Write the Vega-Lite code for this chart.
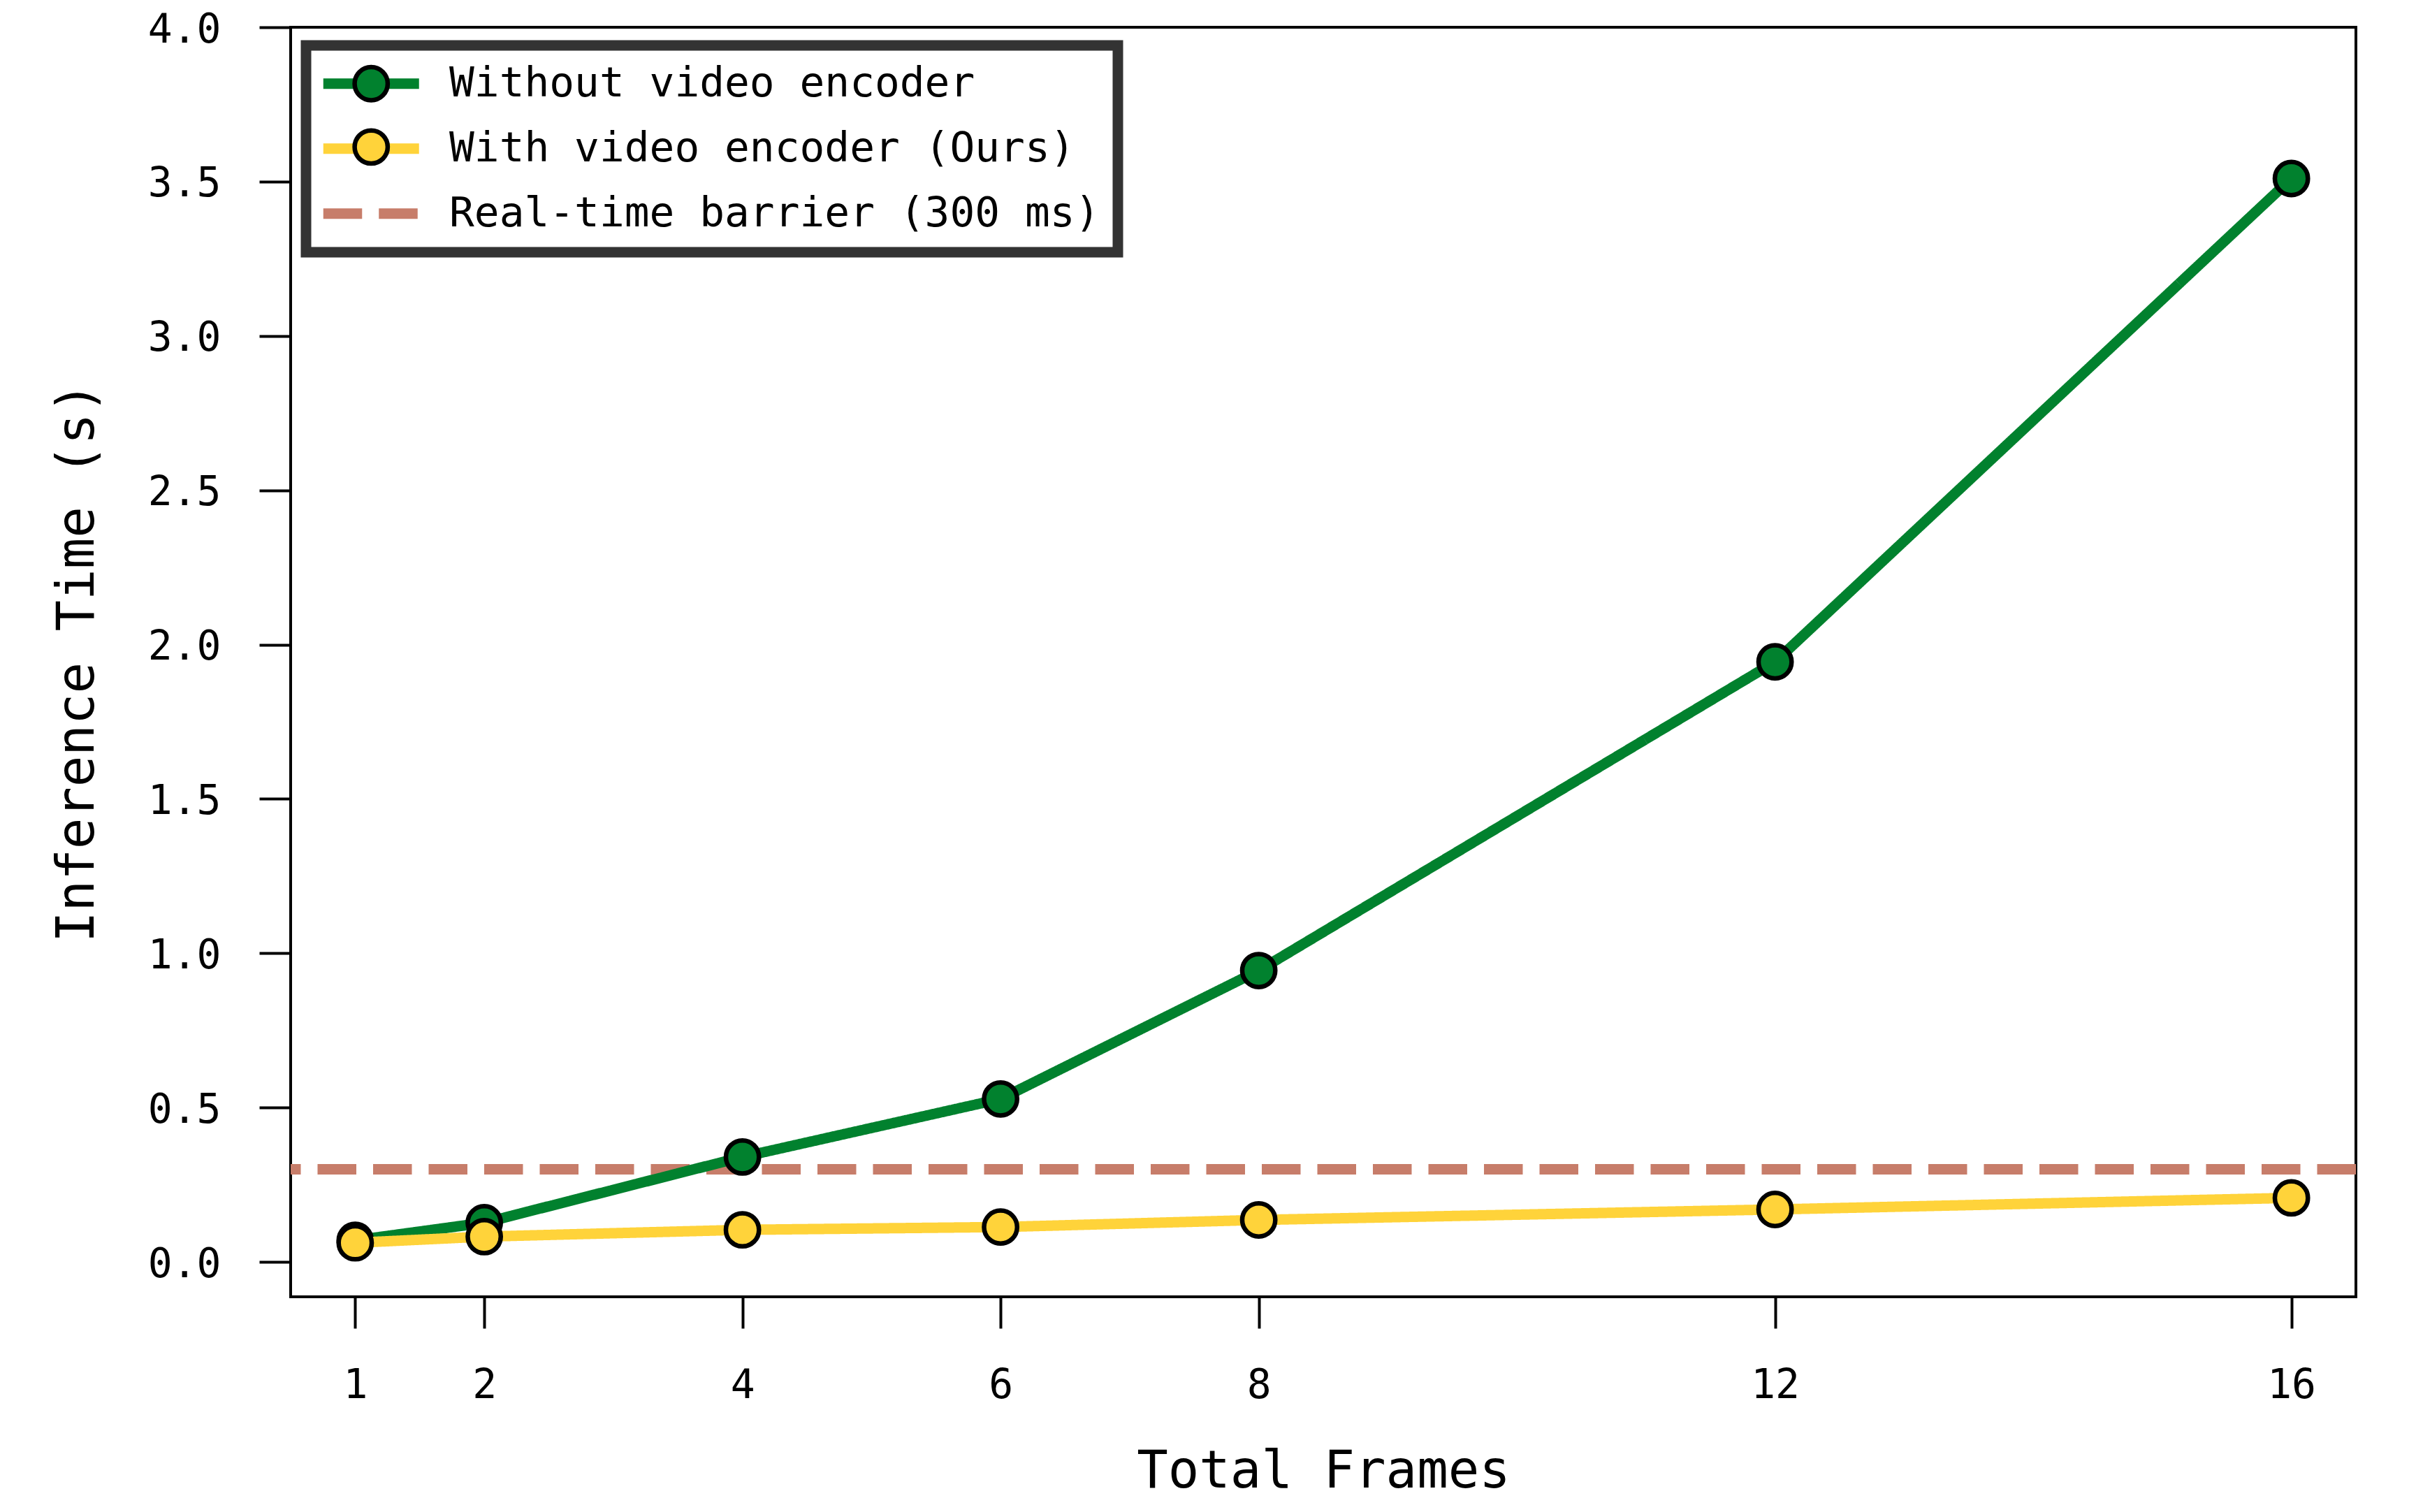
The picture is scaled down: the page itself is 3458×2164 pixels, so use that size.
{
  "$schema": "https://vega.github.io/schema/vega-lite/v6.json",
  "width": 2956,
  "height": 1817,
  "autosize": {"type": "none"},
  "padding": {"left": 416, "top": 39, "right": 86, "bottom": 308},
  "background": "white",
  "datasets": {
    "times": [
      {"frames": 1, "time": 0.07, "series": "Without video encoder"},
      {"frames": 2, "time": 0.127, "series": "Without video encoder"},
      {"frames": 4, "time": 0.34, "series": "Without video encoder"},
      {"frames": 6, "time": 0.528, "series": "Without video encoder"},
      {"frames": 8, "time": 0.944, "series": "Without video encoder"},
      {"frames": 12, "time": 1.944, "series": "Without video encoder"},
      {"frames": 16, "time": 3.51, "series": "Without video encoder"},
      {"frames": 1, "time": 0.062, "series": "With video encoder (Ours)"},
      {"frames": 2, "time": 0.082, "series": "With video encoder (Ours)"},
      {"frames": 4, "time": 0.104, "series": "With video encoder (Ours)"},
      {"frames": 6, "time": 0.113, "series": "With video encoder (Ours)"},
      {"frames": 8, "time": 0.136, "series": "With video encoder (Ours)"},
      {"frames": 12, "time": 0.17, "series": "With video encoder (Ours)"},
      {"frames": 16, "time": 0.2075, "series": "With video encoder (Ours)"}
    ],
    "barrier": [
      {"time": 0.3, "series": "Real-time barrier (300 ms)"}
    ]
  },
  "encoding": {
    "x": {
      "field": "frames", "type": "quantitative",
      "scale": {"domain": [0.5, 16.5], "nice": false, "zero": false},
      "axis": {
        "values": [1, 2, 4, 6, 8, 12, 16],
        "title": "Total Frames",
        "labelPadding": 53,
        "titleY": 272,
        "titleBaseline": "alphabetic"
      }
    },
    "y": {
      "field": "time", "type": "quantitative",
      "scale": {"domain": [-0.113, 4.0], "nice": false, "zero": false},
      "axis": {
        "values": [0, 0.5, 1, 1.5, 2, 2.5, 3, 3.5, 4],
        "format": ".1f",
        "title": "Inference Time (s)",
        "labelPadding": 55,
        "labelOffset": 4,
        "titleX": -283,
        "titleBaseline": "alphabetic",
        "titleAngle": -90
      }
    }
  },
  "layer": [
    {
      "data": {"name": "barrier"},
      "mark": {"type": "rule", "strokeWidth": 15},
      "encoding": {
        "x": null,
        "color": {
          "field": "series", "type": "nominal",
          "scale": {"domain": ["Without video encoder", "With video encoder (Ours)", "Real-time barrier (300 ms)"], "range": ["#01812e", "#ffd33a", "#c77d6a"]},
          "legend": {
            "orient": "none", "legendX": 22, "legendY": 26, "title": null,
            "symbolType": "M-3.425,0L3.425,0", "symbolSize": 1600, "symbolStrokeWidth": 15, "symbolOffset": 38.5,
            "labelFont": "DejaVu Sans Mono", "labelFontSize": 59.5, "labelColor": "black", "labelOffset": 82, "labelLimit": 0,
            "padding": 25, "rowPadding": 32, "fillColor": "white", "strokeColor": "#333333", "zindex": 1,
            "encode": {"legend": {"update": {"strokeWidth": {"value": 15}}}}
          }
        },
        "strokeDash": {
          "field": "series", "type": "nominal",
          "scale": {"domain": ["Without video encoder", "With video encoder (Ours)", "Real-time barrier (300 ms)"], "range": [[1, 0], [1, 0], [55.5, 24]]},
          "legend": {
            "orient": "none", "legendX": 22, "legendY": 26, "title": null,
            "symbolType": "M-3.425,0L3.425,0", "symbolSize": 1600, "symbolStrokeWidth": 15, "symbolOffset": 38.5,
            "labelFont": "DejaVu Sans Mono", "labelFontSize": 59.5, "labelColor": "black", "labelOffset": 82, "labelLimit": 0,
            "padding": 25, "rowPadding": 32, "fillColor": "white", "strokeColor": "#333333", "zindex": 1,
            "encode": {"legend": {"update": {"strokeWidth": {"value": 15}}}}
          }
        }
      }
    },
    {
      "data": {"name": "times"},
      "transform": [{"filter": "datum.series === 'Without video encoder'"}],
      "mark": {"type": "line", "strokeWidth": 15, "strokeJoin": "round"},
      "encoding": {
        "color": {"field": "series", "type": "nominal"},
        "strokeDash": {"field": "series", "type": "nominal"}
      }
    },
    {
      "data": {"name": "times"},
      "transform": [{"filter": "datum.series === 'Without video encoder'"}],
      "mark": {"type": "point", "shape": "circle", "filled": true, "size": 2240, "stroke": "black", "strokeWidth": 6.5, "opacity": 1},
      "encoding": {
        "fill": {
          "field": "series", "type": "nominal",
          "scale": {"domain": ["Without video encoder", "With video encoder (Ours)"], "range": ["#01812e", "#ffd33a"]},
          "legend": {
            "orient": "none", "legendX": 22, "legendY": 26, "title": null,
            "symbolType": "circle", "symbolSize": 2240,
            "symbolStrokeColor": "black", "symbolStrokeWidth": 6.5, "symbolOffset": 38.5, "symbolOpacity": 1,
            "labelFont": "DejaVu Sans Mono", "labelFontSize": 59.5, "labelExpr": "''", "labelOffset": 82, "labelLimit": 0,
            "padding": 25, "rowPadding": 16.6, "zindex": 2,
            "encode": {"symbols": {"update": {"stroke": {"value": "black"}, "strokeWidth": {"value": 6.5}}}}
          }
        }
      }
    },
    {
      "data": {"name": "times"},
      "transform": [{"filter": "datum.series === 'With video encoder (Ours)'"}],
      "mark": {"type": "line", "strokeWidth": 15, "strokeJoin": "round"},
      "encoding": {
        "color": {"field": "series", "type": "nominal"},
        "strokeDash": {"field": "series", "type": "nominal"}
      }
    },
    {
      "data": {"name": "times"},
      "transform": [{"filter": "datum.series === 'With video encoder (Ours)'"}],
      "mark": {"type": "point", "shape": "circle", "filled": true, "size": 2240, "stroke": "black", "strokeWidth": 6.5, "opacity": 1},
      "encoding": {
        "fill": {"field": "series", "type": "nominal"}
      }
    }
  ],
  "config": {
    "font": "DejaVu Sans Mono",
    "view": {"stroke": "black", "strokeWidth": 4},
    "axis": {
      "domain": false,
      "grid": false,
      "ticks": true,
      "tickSize": 45,
      "tickWidth": 4,
      "tickColor": "black",
      "labelFont": "DejaVu Sans Mono",
      "labelFontSize": 58,
      "labelColor": "black",
      "labelAngle": 0,
      "labelFlush": false,
      "labelOverlap": false,
      "titleFont": "DejaVu Sans Mono",
      "titleFontSize": 74,
      "titleFontWeight": "normal",
      "titleColor": "black"
    }
  }
}
